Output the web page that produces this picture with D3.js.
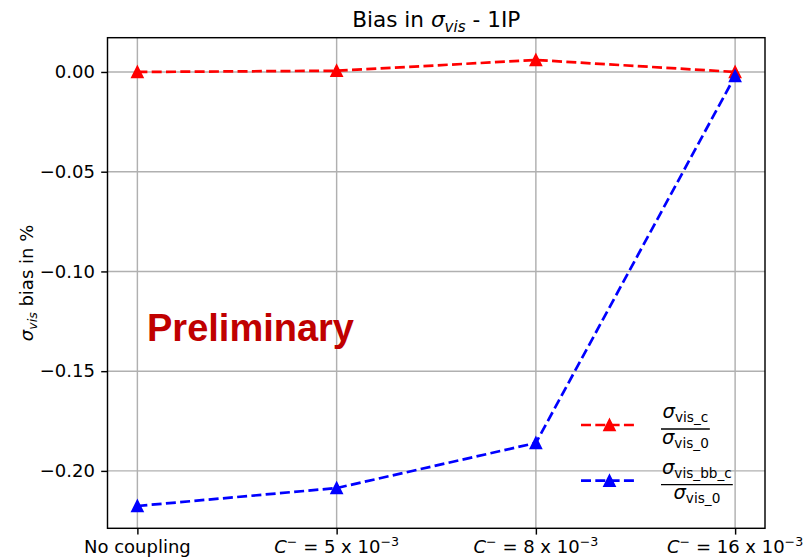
<!DOCTYPE html>
<html>
<head>
<meta charset="utf-8">
<script src="https://cdn.jsdelivr.net/npm/d3@7/dist/d3.min.js"></script>
<style>
  html, body { margin: 0; padding: 0; background: #fff; }
  svg { display: block; font-family: "DejaVu Sans", sans-serif; }
</style>
</head>
<body>
<svg id="chart" width="808" height="558"></svg>
<script>
// Coupling scenarios along the x axis
const categories = ["No coupling", "C5", "C8", "C16"];
// x tick labels: plain text, or coefficient of the 10^-3 coupling strength
const tickLabels = [
  { plain: "No coupling" },
  { coef: "5", exp: "\u22123" },
  { coef: "8", exp: "\u22123" },
  { coef: "16", exp: "\u22123" }
];
// Bias of sigma_vis (in %) for each scenario
const biasC = [0.0000, 0.0006, 0.0060, 0.0000];
const biasBBC = [-0.2176, -0.2086, -0.1860, -0.0020];
const yTicks = [-0.20, -0.15, -0.10, -0.05, 0.00];

const svg = d3.select("#chart");
const plot = { left: 107.5, right: 765, top: 37.7, bottom: 528.3 };
const PT = 1.8;           // pixels per point
const FS = 10 * PT;       // tick / label font size
const LW = 1.5 * PT;      // series line width
const DASH = `${3.7 * 1.5 * PT},${1.6 * 1.5 * PT}`;

const idx = categories.map((d, i) => i);
const x = d3.scaleLinear().domain([-0.15, 3.15]).range([plot.left, plot.right]);
const allVals = biasC.concat(biasBBC);
const yMin = d3.min(allVals), yMax = d3.max(allVals);
const pad = (yMax - yMin) * 0.05;
const y = d3.scaleLinear().domain([yMin - pad, yMax + pad]).range([plot.bottom, plot.top]);

// grid lines
const grid = svg.append("g");
grid.selectAll("line.gx").data(idx).join("line")
  .attr("x1", d => x(d)).attr("x2", d => x(d))
  .attr("y1", plot.top).attr("y2", plot.bottom)
  .attr("stroke", "#b0b0b0").attr("stroke-width", 0.8 * PT);
grid.selectAll("line.gy").data(yTicks).join("line")
  .attr("x1", plot.left).attr("x2", plot.right)
  .attr("y1", d => y(d)).attr("y2", d => y(d))
  .attr("stroke", "#b0b0b0").attr("stroke-width", 0.8 * PT);

// axes
const yAxis = svg.append("g")
  .attr("transform", `translate(${plot.left},0)`)
  .call(d3.axisLeft(y).tickValues(yTicks).tickFormat(d3.format(".2f"))
    .tickSizeOuter(0).tickSize(3.5 * PT).tickPadding(3.5 * PT));
yAxis.select(".domain").remove();
yAxis.selectAll("line").attr("stroke", "#000").attr("stroke-width", 0.8 * PT);
yAxis.selectAll("text").attr("font-size", FS).attr("font-family", "DejaVu Sans").attr("fill", "#000");

const xAxis = svg.append("g")
  .attr("transform", `translate(0,${plot.bottom})`)
  .call(d3.axisBottom(x).tickValues(idx).tickFormat("")
    .tickSizeOuter(0).tickSize(3.5 * PT).tickPadding(3.5 * PT));
xAxis.select(".domain").remove();
xAxis.selectAll("line").attr("stroke", "#000").attr("stroke-width", 0.8 * PT);

// x tick labels, drawn with math-style pieces
const xl = svg.append("g").attr("font-size", FS).attr("fill", "#000");
const SUP = 7;
idx.forEach(i => {
  const t = xl.append("text").attr("x", x(i)).attr("y", 552.5).attr("text-anchor", "middle");
  const lab = tickLabels[i];
  if (lab.plain) { t.text(lab.plain); return; }
  t.append("tspan").attr("font-style", "italic").text("C");
  t.append("tspan").attr("font-size", FS * 0.7).attr("dy", -SUP).text("\u2212");
  t.append("tspan").attr("dy", SUP).text(" = " + lab.coef + " x 10");
  t.append("tspan").attr("font-size", FS * 0.7).attr("dy", -SUP).text(lab.exp);
});

// frame
svg.append("rect")
  .attr("x", plot.left).attr("y", plot.top)
  .attr("width", plot.right - plot.left).attr("height", plot.bottom - plot.top)
  .attr("fill", "none").attr("stroke", "#000").attr("stroke-width", 0.8 * PT);

// series
const series = [
  { vals: biasC, color: "#ff0000" },
  { vals: biasBBC, color: "#0000ff" }
];
const line = d3.line().x((d, i) => x(i)).y(d => y(d));
const MS = 6 * PT;
const triPath = (cx, cy, s) => {
  const h = s / 2;
  return `M${cx},${cy - h}L${cx + h},${cy + h}L${cx - h},${cy + h}Z`;
};
series.forEach(s => {
  svg.append("path").datum(s.vals)
    .attr("d", line).attr("fill", "none")
    .attr("stroke", s.color).attr("stroke-width", LW)
    .attr("stroke-dasharray", DASH);
  svg.append("g").selectAll("path").data(s.vals).join("path")
    .attr("d", (d, i) => triPath(x(i), y(d), MS))
    .attr("fill", s.color).attr("stroke", s.color).attr("stroke-width", PT);
});

// watermark
svg.append("text")
  .attr("x", 147).attr("y", 340.5)
  .attr("font-family", "Liberation Sans, Arial, sans-serif")
  .attr("font-weight", "bold").attr("font-size", 38)
  .attr("fill", "#c00000")
  .text("Preliminary");

// title
const TF = 12 * PT;
const title = svg.append("text")
  .attr("x", (plot.left + plot.right) / 2).attr("y", 27)
  .attr("text-anchor", "middle").attr("font-size", TF).attr("fill", "#000");
title.append("tspan").text("Bias in ");
title.append("tspan").attr("font-style", "italic").text("\u03c3");
title.append("tspan").attr("font-style", "italic").attr("font-size", TF * 0.7).attr("dy", 4.5).text("vis");
title.append("tspan").attr("dy", -4.5).text(" - 1IP");

// y label
const yl = svg.append("text")
  .attr("transform", `translate(33,${(plot.top + plot.bottom) / 2}) rotate(-90)`)
  .attr("text-anchor", "middle").attr("font-size", FS).attr("fill", "#000");
yl.append("tspan").attr("font-style", "italic").text("\u03c3");
yl.append("tspan").attr("font-style", "italic").attr("font-size", FS * 0.7).attr("dy", 3.5).text("vis");
yl.append("tspan").attr("dy", -3.5).text(" bias in %");

// legend (no frame)
const legendItems = [
  { color: "#ff0000", num: "vis_c", den: "vis_0", cy: 425 },
  { color: "#0000ff", num: "vis_bb_c", den: "vis_0", cy: 480.7 }
];
const LF = 19.5;
const lg = svg.append("g");
legendItems.forEach(it => {
  lg.append("line").attr("x1", 581).attr("x2", 638).attr("y1", it.cy).attr("y2", it.cy)
    .attr("stroke", it.color).attr("stroke-width", LW).attr("stroke-dasharray", DASH);
  lg.append("path").attr("d", triPath(609.5, it.cy, MS))
    .attr("fill", it.color).attr("stroke", it.color).attr("stroke-width", PT);

  const barY = it.cy + 4;
  const mk = (sub, by) => {
    const t = lg.append("text").attr("y", by).attr("font-size", LF).attr("fill", "#000");
    t.append("tspan").attr("font-style", "italic").text("\u03c3");
    t.append("tspan").attr("font-size", LF * 0.7).attr("dy", 4).text(sub);
    return t;
  };
  const nt = mk(it.num, barY - 11);
  const dt = mk(it.den, barY + 14.5);
  const nw = nt.node().getComputedTextLength();
  const dw = dt.node().getComputedTextLength();
  const bw = Math.max(nw, dw) + 2;
  const x0 = 661;
  nt.attr("x", x0 + (bw - nw) / 2);
  dt.attr("x", x0 + (bw - dw) / 2);
  lg.append("line").attr("x1", x0).attr("x2", x0 + bw).attr("y1", barY).attr("y2", barY)
    .attr("stroke", "#000").attr("stroke-width", 1.3);
});
</script>
</body>
</html>
